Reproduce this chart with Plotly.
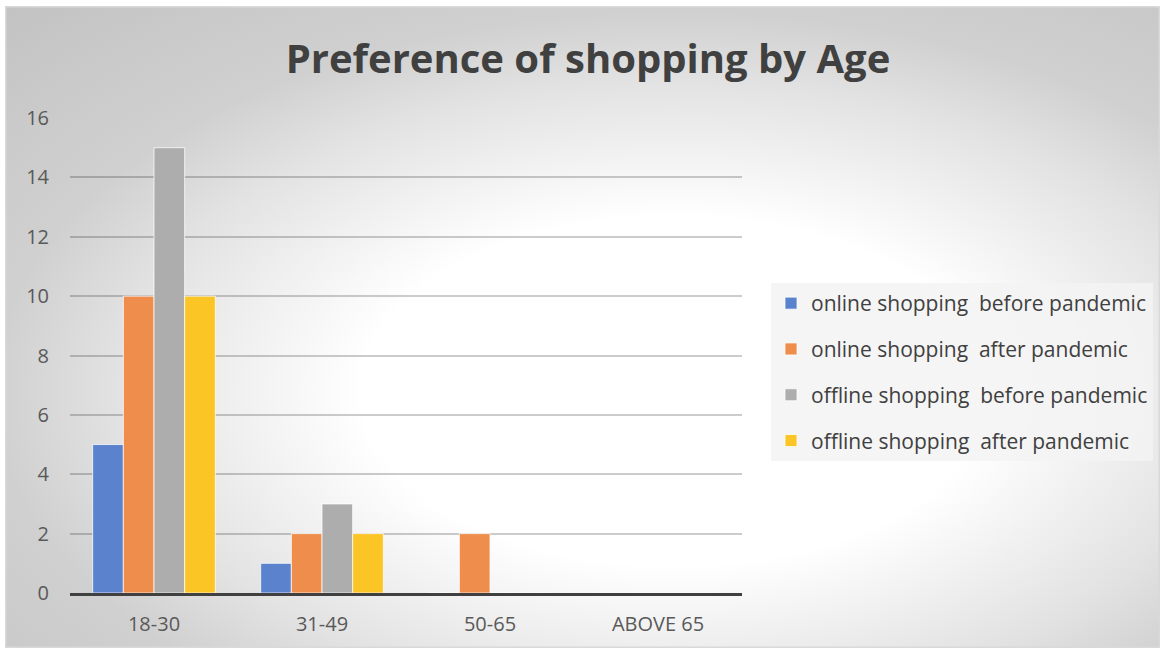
import base64
import plotly.graph_objects as go

# Survey counts per age group
age_groups = ["18-30", "31-49", "50-65", "ABOVE 65"]
online_before = [5, 1, 0, 0]
online_after = [10, 2, 2, 0]
offline_before = [15, 3, 0, 0]
offline_after = [10, 2, 0, 0]

series_names = [
    "online shopping  before pandemic",
    "online shopping  after pandemic",
    "offline shopping  before pandemic",
    "offline shopping  after pandemic",
]
series_values = [online_before, online_after, offline_before, offline_after]
series_colors = ["#5b82cc", "#ef8d4c", "#adadad", "#fcc526"]

FONT = "'Open Sans', Lato, sans-serif"
W, H = 1161, 649
L, R, T, B = 70, 419, 118, 56
plot_w = W - L - R
plot_h = H - T - B

# Chart-area background: soft radial gradient with a thin frame
svg = """<svg xmlns='http://www.w3.org/2000/svg' width='1155' height='642' viewBox='0 0 1155 642'>
<defs><radialGradient id='g' cx='0.58' cy='0.6' r='0.82' gradientUnits='objectBoundingBox'>
<stop offset='0' stop-color='#ffffff'/>
<stop offset='0.33' stop-color='#ffffff'/>
<stop offset='0.59' stop-color='#e2e2e2'/>
<stop offset='0.72' stop-color='#d0d0d0'/>
<stop offset='0.86' stop-color='#cacaca'/>
<stop offset='1' stop-color='#c3c3c3'/>
</radialGradient></defs>
<rect x='0' y='0' width='1155' height='642' fill='url(#g)'/>
<rect x='0.75' y='0.75' width='1153.5' height='640.5' fill='none' stroke='#d9d9d9' stroke-width='1.5'/>
</svg>"""
bg_src = "data:image/svg+xml;base64," + base64.b64encode(svg.encode()).decode()

fig = go.Figure()
for i, (name, vals, col) in enumerate(zip(series_names, series_values, series_colors)):
    fig.add_trace(go.Bar(
        x=age_groups, y=vals, name=name,
        marker=dict(color=col, line=dict(color="rgba(255,255,255,0.75)", width=1)),
        legendgroup=f"g{i}",
    ))

fig.update_layout(
    width=W, height=H,
    margin=dict(l=L, r=R, t=T, b=B, autoexpand=False),
    paper_bgcolor="white",
    plot_bgcolor="rgba(0,0,0,0)",
    barmode="group", bargap=0.27, bargroupgap=0,
    font=dict(family=FONT, color="#595959"),
    title=dict(
        text="<b>Preference of shopping by Age</b>",
        font=dict(size=40, color="#404040", family=FONT),
        xref="container", x=588 / W, xanchor="center",
        yref="container", y=1 - 59 / H, yanchor="middle",
    ),
    legend=dict(
        x=(771 - L) / plot_w, xanchor="left",
        y=(H - B - 283) / plot_h, yanchor="top",
        bgcolor="rgba(243,243,243,0.85)",
        font=dict(size=21, color="#404040"),
        tracegroupgap=15.5,
        itemwidth=30,
    ),
    images=[dict(
        source=bg_src, xref="paper", yref="paper",
        x=(5 - L) / plot_w, y=(H - B - 6) / plot_h,
        sizex=1155 / plot_w, sizey=642 / plot_h,
        xanchor="left", yanchor="top", sizing="stretch", layer="below",
    )],
)

fig.update_yaxes(
    range=[0, 16], dtick=2, showgrid=True,
    gridcolor="rgba(0,0,0,0.2)", gridwidth=1.5,
    zeroline=False,
    tickfont=dict(size=20, color="#595959"),
    ticklabelstandoff=20, fixedrange=True,
)
fig.update_xaxes(
    showgrid=False,
    showline=True, linecolor="#404040", linewidth=3, layer="above traces",
    tickfont=dict(size=20, color="#595959"),
    ticklabelstandoff=11,
)

fig.write_html("out.html")
